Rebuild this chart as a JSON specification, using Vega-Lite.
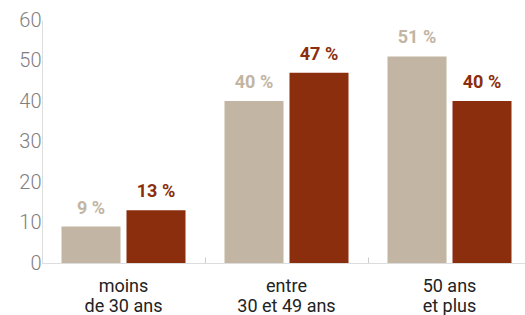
{
  "$schema": "https://vega.github.io/schema/vega-lite/v6.json",
  "autosize": "none",
  "width": 489,
  "height": 243,
  "padding": {"left": 42, "top": 20, "right": 0, "bottom": 52},
  "background": "white",
  "config": {"view": {"stroke": null}, "font": "Roboto"},
  "data": {"values": [
    {"groupe": "moins\nde 30 ans", "serie": "s1", "valeur": 9, "etiquette": "9 %"},
    {"groupe": "moins\nde 30 ans", "serie": "s2", "valeur": 13, "etiquette": "13 %"},
    {"groupe": "entre\n30 et 49 ans", "serie": "s1", "valeur": 40, "etiquette": "40 %"},
    {"groupe": "entre\n30 et 49 ans", "serie": "s2", "valeur": 47, "etiquette": "47 %"},
    {"groupe": "50 ans\net plus", "serie": "s1", "valeur": 51, "etiquette": "51 %"},
    {"groupe": "50 ans\net plus", "serie": "s2", "valeur": 40, "etiquette": "40 %"}
  ]},
  "encoding": {
    "x": {"field": "groupe", "type": "nominal", "sort": null,
      "scale": {"paddingInner": 0, "paddingOuter": 0},
      "axis": {"title": null, "labelAngle": 0, "bandPosition": 0,
        "labelExpr": "split(datum.label, '\\n')", "labelFontSize": 18, "labelColor": "#222",
        "labelLineHeight": 20, "labelPadding": 20, "tickSize": -6, "tickColor": "#cccccc",
        "domainColor": "#dddddd", "labelBaseline": "top"}},
    "xOffset": {"field": "serie", "type": "nominal", "scale": {"paddingInner": 0.092, "paddingOuter": 0.3}},
    "y": {"field": "valeur", "type": "quantitative", "scale": {"domain": [0, 60]},
      "axis": {"title": null, "values": [0, 10, 20, 30, 40, 50, 60], "grid": false, "ticks": false,
        "labelPadding": 1, "labelFontSize": 20, "labelFontWeight": 300, "labelColor": "#808080", "domainColor": "#dddddd"}}
  },
  "layer": [
    {"mark": {"type": "bar"},
      "encoding": {"color": {"field": "serie", "type": "nominal", "legend": null,
        "scale": {"domain": ["s1", "s2"], "range": ["#c2b5a3", "#8b2e0e"]}}}},
    {"mark": {"type": "text", "baseline": "bottom", "dy": -9, "fontSize": 18, "fontWeight": "bold"},
      "encoding": {"text": {"field": "etiquette", "type": "nominal"},
        "color": {"field": "serie", "type": "nominal", "legend": null,
          "scale": {"domain": ["s1", "s2"], "range": ["#a39a8e", "#8b2e0e"]}}}}
  ]
}
